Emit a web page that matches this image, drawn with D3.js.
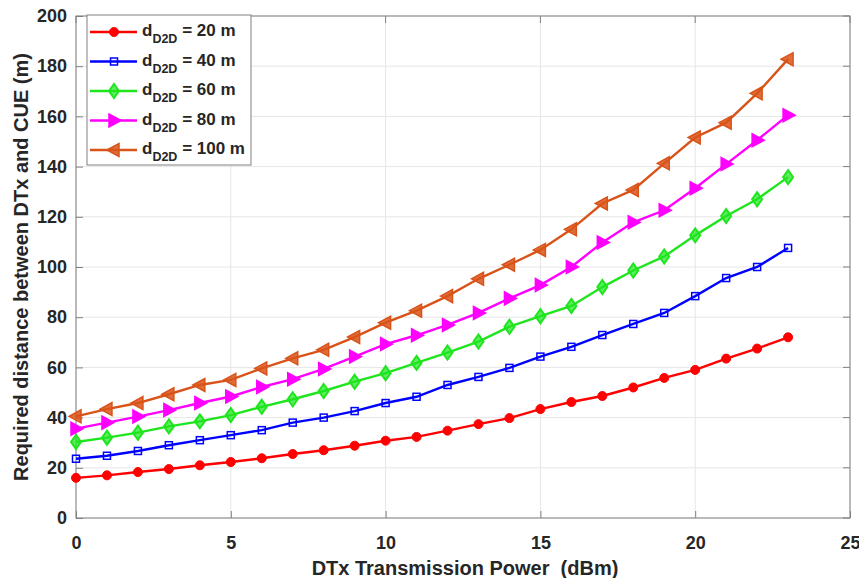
<!DOCTYPE html>
<html><head><meta charset="utf-8">
<script src="https://cdn.jsdelivr.net/npm/d3@7"></script>
<style>body{margin:0;background:#fff;} svg{display:block;font-family:"Liberation Sans",Arial,sans-serif;}</style>
</head><body><svg id="c" width="859" height="578"></svg>
<script>
const xPower = d3.range(0, 24);
const d20  = [16,17,18.3,19.5,21,22.3,23.8,25.5,27,28.8,30.8,32.3,34.8,37.4,39.8,43.4,46.2,48.6,52,55.8,59,63.5,67.5,72];
const d40  = [23.6,24.8,26.7,29,31,33,35,38,40,42.6,45.8,48.3,53,56.2,59.8,64.3,68.2,72.9,77.3,81.7,88.4,95.6,100,107.6];
const d60  = [30.3,32,34,36.5,38.5,41,44.3,47.3,50.6,54.3,57.7,61.8,65.9,70.3,76.2,80.4,84.5,92,98.6,104.2,112.6,120.3,127,135.8];
const d80  = [35.6,38,40.4,43,45.8,48.4,52.2,55.3,59.4,64.3,69.3,72.8,76.9,81.7,87.5,92.8,100,109.8,117.8,122.6,131.4,141,150.5,160.5];
const d100 = [40.5,43.4,45.8,49.3,53,55,59.6,63.6,67,72.1,77.8,82.6,88.4,95.3,100.9,106.8,115,125.3,130.7,141.3,151.6,157.5,169.2,182.8];
const seriesNames = ["20 m","40 m","60 m","80 m","100 m"];
const seriesColors = ["#ff0000","#0000ff","#1ee51e","#ff00ff","#d95319"];
const seriesMarkers = ["circle","square","diamond","right","left"];
const xTicks = [0,5,10,15,20,25];
const yTicks = [0,20,40,60,80,100,120,140,160,180,200];
const xTitle = "DTx Transmission Power  (dBm)";
const yTitle = "Required distance between DTx and CUE (m)";

const allData = [d20,d40,d60,d80,d100];
const svg = d3.select("#c");
const m = {l:76, t:16, r:850, b:518};
const x = d3.scaleLinear().domain([0,25]).range([m.l, m.r]);
const y = d3.scaleLinear().domain([0,200]).range([m.b, m.t]);
const axisColor = "#262626";

// grid
const g = svg.append("g");
g.selectAll(".gx").data(xTicks).join("line")
  .attr("x1",d=>x(d)).attr("x2",d=>x(d)).attr("y1",m.t).attr("y2",m.b)
  .attr("stroke","#e6e6e6").attr("stroke-width",1);
g.selectAll(".gy").data(yTicks).join("line")
  .attr("y1",d=>y(d)).attr("y2",d=>y(d)).attr("x1",m.l).attr("x2",m.r)
  .attr("stroke","#e6e6e6").attr("stroke-width",1);

// axes
const xAxis = d3.axisBottom(x).tickValues(xTicks).tickSizeInner(-7).tickSizeOuter(0).tickPadding(18);
const yAxis = d3.axisLeft(y).tickValues(yTicks).tickSizeInner(-7).tickSizeOuter(0).tickPadding(9);
const gx = svg.append("g").attr("transform",`translate(0,${m.b})`).call(xAxis);
const gy = svg.append("g").attr("transform",`translate(${m.l},0)`).call(yAxis);
[gx,gy].forEach(a=>{
  a.select(".domain").remove();
  a.selectAll("line").attr("stroke","#808080");
  a.selectAll("text").attr("fill",axisColor).style("font-size","18px").style("font-weight","bold");
});
// top ticks / right ticks
svg.append("g").selectAll("line").data(xTicks).join("line")
  .attr("x1",d=>x(d)).attr("x2",d=>x(d)).attr("y1",m.t).attr("y2",m.t+7).attr("stroke","#808080");
svg.append("g").selectAll("line").data(yTicks).join("line")
  .attr("y1",d=>y(d)).attr("y2",d=>y(d)).attr("x1",m.r).attr("x2",m.r-7).attr("stroke","#808080");
svg.append("rect").attr("x",m.l).attr("y",m.t).attr("width",m.r-m.l).attr("height",m.b-m.t)
  .attr("fill","none").attr("stroke","#808080").attr("stroke-width",1);

// titles
svg.append("text").attr("x",(m.l+m.r)/2 + 2).attr("y",575).attr("text-anchor","middle")
  .attr("fill",axisColor).style("font-size","20px").style("font-weight","bold")
  .style("white-space","pre").attr("xml:space","preserve").text(xTitle);
svg.append("text").attr("transform",`translate(28,${(m.t+m.b)/2}) rotate(-90)`).attr("text-anchor","middle")
  .attr("fill",axisColor).style("font-size","20px").style("font-weight","bold").text(yTitle);

function marker(sel, type, color, cx, cy){
  let s;
  if(type==="circle"){
    s = sel.append("circle").attr("cx",cx).attr("cy",cy).attr("r",4.5).attr("fill",color).attr("stroke",color);
  } else if(type==="square"){
    s = sel.append("rect").attr("x",cx-3.5).attr("y",cy-3.5).attr("width",7).attr("height",7)
      .attr("fill","none").attr("stroke",color).attr("stroke-width",1.5);
  } else if(type==="diamond"){
    s = sel.append("path").attr("d",`M${cx},${cy-7}L${cx+5},${cy}L${cx},${cy+7}L${cx-5},${cy}Z`)
      .attr("fill",color).attr("fill-opacity",0.7).attr("stroke",color).attr("stroke-width",2);
  } else if(type==="right"){
    s = sel.append("path").attr("d",`M${cx+7},${cy}L${cx-5},${cy-6.5}L${cx-5},${cy+6.5}Z`)
      .attr("fill",color).attr("stroke",color).attr("stroke-width",1.5);
  } else {
    s = sel.append("path").attr("d",`M${cx-7},${cy}L${cx+5},${cy-6.5}L${cx+5},${cy+6.5}Z`)
      .attr("fill",color).attr("fill-opacity",0.85).attr("stroke",color).attr("stroke-width",1.5);
  }
  return s;
}

const line = d3.line().x((d,i)=>x(xPower[i])).y(d=>y(d));
allData.forEach((arr,k)=>{
  const gs = svg.append("g");
  gs.append("path").datum(arr).attr("d",line).attr("fill","none")
    .attr("stroke",seriesColors[k]).attr("stroke-width",2.4);
  arr.forEach((v,i)=>marker(gs, seriesMarkers[k], seriesColors[k], x(xPower[i]), y(v)));
});

// legend
const lg = svg.append("g");
lg.append("rect").attr("x",87).attr("y",15).attr("width",164).attr("height",150)
  .attr("fill","#fff").attr("stroke","#808080").attr("stroke-width",1);
seriesNames.forEach((nm,k)=>{
  const yy = 32 + k*29.5;
  lg.append("line").attr("x1",90).attr("x2",137).attr("y1",yy).attr("y2",yy)
    .attr("stroke",seriesColors[k]).attr("stroke-width",2.4);
  marker(lg, seriesMarkers[k], seriesColors[k], 114, yy);
  const t = lg.append("text").attr("x",142).attr("y",yy+4).attr("fill",axisColor)
    .style("font-size","17px").style("font-weight","bold");
  t.append("tspan").text("d");
  t.append("tspan").attr("dy",7).style("font-size","12.5px").text("D2D");
  t.append("tspan").attr("dy",-7).text(" = " + nm);
});
</script></body></html>
